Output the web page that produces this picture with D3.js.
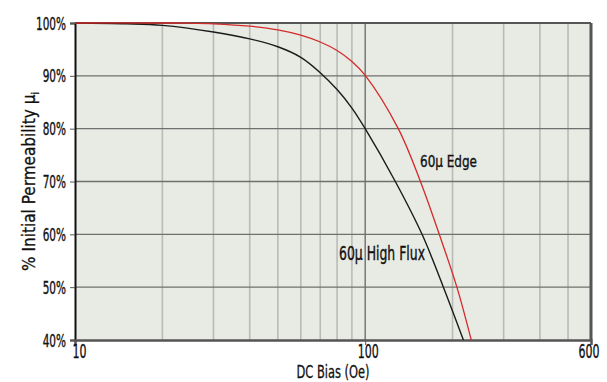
<!DOCTYPE html>
<html>
<head>
<meta charset="utf-8">
<script src="https://cdn.jsdelivr.net/npm/d3@7"></script>
<style>
  body { margin: 0; background: #fff; }
  text { font-family: "DejaVu Sans Condensed", "DejaVu Sans", sans-serif; fill: #111; }
</style>
</head>
<body>
<div id="chart"></div>
<script>
// data
const highFluxBias = [10, 15, 20, 30, 40, 50, 60, 70, 80, 90, 100, 127, 157, 186, 218];
const highFluxPerm = [100, 99.85, 99.55, 98.3, 97.0, 95.5, 93.5, 90.6, 87.4, 83.9, 80, 70, 60, 50, 40];
const edgeBias = [10, 20, 25, 30, 40, 50, 60, 70, 80, 90, 100, 130, 155, 180, 207, 232];
const edgePerm = [100, 100, 99.97, 99.85, 99.4, 98.7, 97.7, 96.4, 94.8, 92.7, 90.1, 80, 70, 60, 50, 40];
const yTicks = [40, 50, 60, 70, 80, 90, 100];
const xLabels = [10, 100, 600];
const xMinor = [20, 30, 40, 50, 60, 70, 80, 90, 200, 300, 400, 500];

const margin = {top: 23, right: 16, bottom: 42, left: 75},
    width = 607 - margin.left - margin.right,
    height = 382 - margin.top - margin.bottom;

const svg = d3.select("#chart")
    .append("svg")
    .attr("width", 607)
    .attr("height", 382)
    .append("g")
    .attr("transform", `translate(${margin.left},${margin.top})`);

const x = d3.scaleLog().domain([10, 600]).range([0, width]);
const y = d3.scaleLinear().domain([40, 100]).range([height, 0]);

// squeeze text horizontally so the wide fallback font looks condensed
function squeeze(sel, k) {
    sel.each(function() {
        const w = this.getComputedTextLength();
        d3.select(this).attr("textLength", w * k).attr("lengthAdjust", "spacingAndGlyphs");
    });
}

// plot background
svg.append("rect")
    .attr("width", width)
    .attr("height", height)
    .attr("fill", "#e8eae4");

// minor vertical grid
svg.append("g")
    .selectAll("line")
    .data(xMinor)
    .join("line")
    .attr("x1", d => x(d)).attr("x2", d => x(d))
    .attr("y1", 0).attr("y2", height)
    .attr("stroke", "#b9bbb7")
    .attr("stroke-width", 1.6);

// major vertical at 100
svg.append("line")
    .attr("x1", x(100)).attr("x2", x(100))
    .attr("y1", 0).attr("y2", height)
    .attr("stroke", "#666")
    .attr("stroke-width", 1.3);

// horizontal grid
svg.append("g")
    .selectAll("line")
    .data(yTicks.slice(1, -1))
    .join("line")
    .attr("x1", 0).attr("x2", width)
    .attr("y1", d => y(d)).attr("y2", d => y(d))
    .attr("stroke", "#6e706d")
    .attr("stroke-width", 1.3);

// frame
svg.append("line").attr("x1", 0).attr("x2", width).attr("y1", 0).attr("y2", 0)
    .attr("stroke", "#555").attr("stroke-width", 2);
svg.append("line").attr("x1", width).attr("x2", width).attr("y1", 0).attr("y2", height)
    .attr("stroke", "#555").attr("stroke-width", 3);

// Y axis
const yAxis = svg.append("g")
    .call(d3.axisLeft(y).tickValues(yTicks).tickSize(5).tickFormat(d => d + "%"));
yAxis.select(".domain").attr("stroke", "#111").attr("stroke-width", 2);
yAxis.selectAll(".tick line").attr("stroke", "#555");
const yLabels = yAxis.selectAll(".tick text").attr("x", -9).attr("dy", "0.36em")
    .style("font-size", "17px").style("font-family", null)
    .attr("stroke", "#111").attr("stroke-width", 0.35);
const kY = 30 / yLabels.filter(d => d === 100).node().getComputedTextLength();
squeeze(yLabels, kY);

// X axis
const xAxis = svg.append("g")
    .attr("transform", `translate(0, ${height})`)
    .call(d3.axisBottom(x).tickValues(xLabels).tickSize(5).tickFormat(d3.format("d")));
xAxis.select(".domain").attr("stroke", "#555").attr("stroke-width", 2.5);
xAxis.selectAll(".tick line").attr("stroke", "#555");
const xTickText = xAxis.selectAll(".tick text").attr("y", 5)
    .style("font-size", "19px").style("font-family", null)
    .attr("stroke", "#111").attr("stroke-width", 0.35)
    .attr("text-anchor", d => d === 10 ? "start" : d === 600 ? "end" : "middle")
    .attr("dx", d => d === 10 ? -3 : d === 600 ? 8 : 2.5);
const kX = 21 / xTickText.filter(d => d === 100).node().getComputedTextLength();
squeeze(xTickText, kX);

// curves
const line = d3.line()
    .x(d => x(d[0]))
    .y(d => y(d[1]))
    .curve(d3.curveCatmullRom.alpha(0.5));

svg.append("path")
    .datum(highFluxBias.map((b, i) => [b, highFluxPerm[i]]))
    .attr("fill", "none")
    .attr("stroke", "#1a1a1a")
    .attr("stroke-width", 1.4)
    .attr("d", line);

svg.append("path")
    .datum(edgeBias.map((b, i) => [b, edgePerm[i]]))
    .attr("fill", "none")
    .attr("stroke", "#d42a2a")
    .attr("stroke-width", 1.3)
    .attr("d", line);

// series labels
const edgeLabel = svg.append("text")
    .attr("x", 420 - margin.left)
    .attr("y", 166.5 - margin.top)
    .style("font-size", "16px")
    .attr("stroke", "#111").attr("stroke-width", 0.35)
    .text("60μ Edge");
edgeLabel.attr("textLength", 57).attr("lengthAdjust", "spacingAndGlyphs");

const fluxLabel = svg.append("text")
    .attr("x", 339 - margin.left)
    .attr("y", 260 - margin.top)
    .style("font-size", "19px")
    .attr("stroke", "#111").attr("stroke-width", 0.35)
    .text("60μ High Flux");
fluxLabel.attr("textLength", 86).attr("lengthAdjust", "spacingAndGlyphs");

// axis titles
const yTitle = svg.append("text")
    .attr("transform", `translate(-40, ${height / 2}) rotate(-90)`)
    .attr("text-anchor", "middle")
    .attr("stroke", "#111").attr("stroke-width", 0.3)
    .style("font-size", "17px");
yTitle.append("tspan").text("% Initial Permeability μ");
yTitle.append("tspan").attr("dy", 4).style("font-size", "10px").text("i");

const xTitle = svg.append("text")
    .attr("x", width / 2)
    .attr("y", height + 38)
    .attr("text-anchor", "middle")
    .attr("stroke", "#111").attr("stroke-width", 0.3)
    .style("font-size", "17.5px")
    .text("DC Bias (Oe)");
xTitle.attr("textLength", 73).attr("lengthAdjust", "spacingAndGlyphs");
</script>
</body>
</html>
